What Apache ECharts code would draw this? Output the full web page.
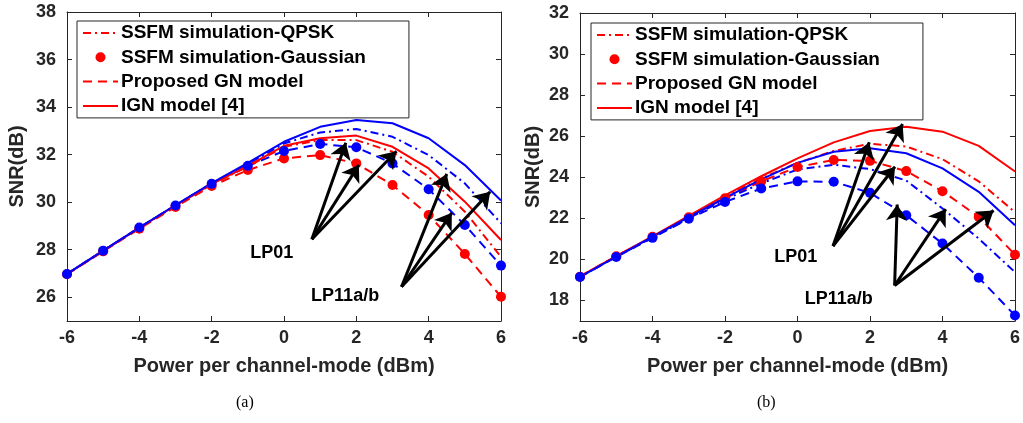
<!DOCTYPE html>
<html>
<head>
<meta charset="utf-8">
<script src="https://cdn.jsdelivr.net/npm/echarts@6/dist/echarts.min.js"></script>
<style>
html,body{margin:0;padding:0;background:#fff;}
#chart{width:1023px;height:423px;}
</style>
</head>
<body>
<div id="chart"></div>
<script>
// ---------- data ----------
const powerX = [-6, -5, -4, -3, -2, -1, 0, 1, 2, 3, 4, 5, 6];
const xTicks = [-6, -4, -2, 0, 2, 4, 6];
const yTicksA = [26, 28, 30, 32, 34, 36, 38];
const yTicksB = [18, 20, 22, 24, 26, 28, 30, 32];

// (a)
const a_qpskRed  = [26.97, 27.95, 28.92, 29.85, 30.75, 31.49, 32.33, 32.61, 32.61, 32.12, 31.07, 29.60, 27.70];
const a_gaussRed = [26.97, 27.93, 28.88, 29.80, 30.68, 31.35, 31.84, 31.98, 31.63, 30.72, 29.46, 27.82, 26.02];
const a_gnRed    = [26.97, 27.93, 28.88, 29.80, 30.68, 31.35, 31.84, 31.98, 31.63, 30.72, 29.46, 27.82, 26.02];
const a_ignRed   = [26.97, 27.95, 28.92, 29.86, 30.76, 31.53, 32.37, 32.69, 32.80, 32.33, 31.42, 30.02, 28.41];
const a_qpskBlue = [26.98, 27.96, 28.93, 29.87, 30.79, 31.60, 32.47, 32.93, 33.08, 32.75, 31.98, 30.79, 29.11];
const a_gaussBlue= [26.98, 27.96, 28.93, 29.86, 30.77, 31.53, 32.15, 32.45, 32.31, 31.63, 30.54, 29.04, 27.33];
const a_gnBlue   = [26.98, 27.96, 28.93, 29.86, 30.77, 31.53, 32.15, 32.45, 32.31, 31.63, 30.54, 29.04, 27.33];
const a_ignBlue  = [26.98, 27.96, 28.93, 29.88, 30.80, 31.65, 32.54, 33.17, 33.46, 33.32, 32.69, 31.56, 30.07];

// (b)
const b_qpskRed  = [19.17, 20.16, 21.10, 22.08, 23.05, 23.95, 24.70, 25.28, 25.63, 25.50, 24.88, 23.80, 22.30];
const b_gaussRed = [19.16, 20.15, 21.10, 22.05, 22.98, 23.80, 24.50, 24.84, 24.80, 24.30, 23.32, 22.07, 20.23];
const b_gnRed    = [19.16, 20.15, 21.10, 22.05, 22.98, 23.80, 24.50, 24.84, 24.80, 24.30, 23.32, 22.07, 20.23];
const b_ignRed   = [19.17, 20.16, 21.12, 22.12, 23.12, 24.05, 24.92, 25.70, 26.25, 26.46, 26.22, 25.53, 24.28];
const b_qpskBlue = [19.15, 20.13, 21.07, 22.00, 22.92, 23.70, 24.38, 24.61, 24.40, 23.84, 22.48, 21.01, 19.38];
const b_gaussBlue= [19.14, 20.12, 21.05, 21.98, 22.80, 23.45, 23.80, 23.78, 23.24, 22.15, 20.77, 19.11, 17.27];
const b_gnBlue   = [19.14, 20.12, 21.05, 21.98, 22.80, 23.45, 23.80, 23.78, 23.24, 22.15, 20.77, 19.11, 17.27];
const b_ignBlue  = [19.15, 20.14, 21.10, 22.06, 23.00, 23.90, 24.70, 25.24, 25.41, 25.17, 24.43, 23.29, 21.66];

// annotation arrows [x0, y0, x1, y1] (data units)
const a_arrows = [
  [0.77, 28.44, 1.71, 32.50], [0.77, 28.44, 2.07, 31.57], [0.77, 28.44, 3.11, 32.14],
  [3.25, 26.44, 4.50, 31.19], [3.25, 26.44, 4.64, 29.55], [3.25, 26.44, 5.70, 30.44]
];
const b_arrows = [
  [0.98, 20.65, 1.98, 25.70], [0.98, 20.65, 2.90, 26.59], [0.98, 20.65, 2.69, 24.51],
  [2.68, 18.73, 2.75, 22.67], [2.68, 18.73, 4.09, 22.45], [2.68, 18.73, 5.41, 22.38]
];
const a_labels = [['LP01', -0.34, 27.85], ['LP11a/b', 1.69, 26.07]];
const b_labels = [['LP01', -0.05, 20.11], ['LP11a/b', 1.14, 18.08]];

const names = ['SSFM simulation-QPSK', 'SSFM simulation-Gaussian', 'Proposed GN model', 'IGN model [4]'];

// ---------- build ----------
const RED = '#ff0000', BLUE = '#0000ff', AX = '#262626';
const FONT = 'Liberation Sans, Arial, sans-serif';
const pts = arr => powerX.map((x, i) => [x, arr[i]]);

function lineSeries(name, arr, color, type, idx) {
  return {
    type: 'line', name: name, data: pts(arr), xAxisIndex: idx, yAxisIndex: idx,
    symbol: 'none', showSymbol: false, z: 3,
    lineStyle: { color: color, width: 2, type: type }, itemStyle: { color: color },
    emphasis: { disabled: true }, silent: true
  };
}
function dotSeries(name, arr, color, idx) {
  return {
    type: 'scatter', name: name, data: pts(arr), xAxisIndex: idx, yAxisIndex: idx,
    symbol: 'circle', symbolSize: 10, z: 4,
    itemStyle: { color: color, opacity: 1 }, emphasis: { disabled: true }, silent: true
  };
}
const DASHDOT = [8, 4, 2, 4], DASH = [9, 6];

function panelSeries(idx, d, arrows, labels) {
  const s = [
    lineSeries(names[2], d.gnRed, RED, DASH, idx),
    lineSeries('gnB' + idx, d.gnBlue, BLUE, DASH, idx),
    lineSeries(names[0], d.qpskRed, RED, DASHDOT, idx),
    lineSeries('qpskB' + idx, d.qpskBlue, BLUE, DASHDOT, idx),
    lineSeries(names[3], d.ignRed, RED, 'solid', idx),
    lineSeries('ignB' + idx, d.ignBlue, BLUE, 'solid', idx),
    dotSeries(names[1], d.gaussRed, RED, idx),
    dotSeries('gaussB' + idx, d.gaussBlue, BLUE, idx)
  ];
  s.push({
    type: 'line', name: 'annot' + idx, data: [], xAxisIndex: idx, yAxisIndex: idx, z: 10,
    markLine: {
      silent: true, symbol: ['none', 'arrow'], symbolSize: 16, precision: 4,
      label: { show: false }, emphasis: { disabled: true },
      lineStyle: { color: '#000', width: 3, type: 'solid' },
      data: arrows.map(a => [{ coord: [a[0], a[1]] }, { coord: [a[2], a[3]] }])
    },
    markPoint: {
      silent: true, symbol: 'circle', symbolSize: 0,
      label: { show: true, position: 'inside', color: '#000', fontFamily: FONT, fontWeight: 'bold', fontSize: 18,
               formatter: p => p.name },
      data: labels.map(l => ({ name: l[0], coord: [l[1], l[2]], value: 0 }))
    }
  });
  return s;
}

const baseAxisLine = { show: true, onZero: false, lineStyle: { color: AX, width: 1 } };
function xAxes(gi) {
  return [
    { type: 'value', gridIndex: gi, min: -6, max: 6, interval: 2, position: 'bottom',
      axisLine: baseAxisLine, axisTick: { inside: true, length: 5, lineStyle: { color: AX } },
      axisLabel: { color: AX, fontFamily: FONT, fontWeight: 'bold', fontSize: 18, margin: 8 },
      splitLine: { show: false },
      name: 'Power per channel-mode (dBm)', nameLocation: 'middle', nameGap: 35,
      nameTextStyle: { color: AX, fontFamily: FONT, fontWeight: 'bold', fontSize: 20 } },
    { type: 'value', gridIndex: gi, min: -6, max: 6, interval: 2, position: 'top',
      axisLine: baseAxisLine, axisTick: { inside: true, length: 5, lineStyle: { color: AX } },
      axisLabel: { show: false }, splitLine: { show: false } }
  ];
}
function yAxes(gi, min, max, ticks, gap) {
  return [
    { type: 'value', gridIndex: gi, min: min, max: max, position: 'left',
      axisLine: baseAxisLine,
      axisTick: { inside: true, length: 5, lineStyle: { color: AX }, customValues: ticks },
      axisLabel: { color: AX, fontFamily: FONT, fontWeight: 'bold', fontSize: 18, margin: 11, customValues: ticks },
      splitLine: { show: false },
      name: 'SNR(dB)', nameLocation: 'middle', nameGap: gap,
      nameTextStyle: { color: AX, fontFamily: FONT, fontWeight: 'bold', fontSize: 20 } },
    { type: 'value', gridIndex: gi, min: min, max: max, position: 'right',
      axisLine: baseAxisLine,
      axisTick: { inside: true, length: 5, lineStyle: { color: AX }, customValues: ticks },
      axisLabel: { show: false, customValues: ticks }, splitLine: { show: false } }
  ];
}

const xa = xAxes(0).concat(xAxes(1));
const ya = yAxes(0, 25, 38, yTicksA, 40).concat(yAxes(1, 17, 32, yTicksB, 37));
const sA = panelSeries(0, { qpskRed: a_qpskRed, gaussRed: a_gaussRed, gnRed: a_gnRed, ignRed: a_ignRed,
  qpskBlue: a_qpskBlue, gaussBlue: a_gaussBlue, gnBlue: a_gnBlue, ignBlue: a_ignBlue }, a_arrows, a_labels);
const sB = panelSeries(2, { qpskRed: b_qpskRed, gaussRed: b_gaussRed, gnRed: b_gnRed, ignRed: b_ignRed,
  qpskBlue: b_qpskBlue, gaussBlue: b_gaussBlue, gnBlue: b_gnBlue, ignBlue: b_ignBlue }, b_arrows, b_labels);

// legend entries: hide the auto symbol on line entries
const legendData = names.map(n => n === names[1] ? { name: n } : { name: n, itemStyle: { opacity: 0 } });

function legend(left, top) {
  return {
    left: left, top: top, orient: 'vertical', data: legendData, selectedMode: false,
    itemWidth: 35, itemHeight: 10, itemGap: 4.3,
    padding: [2, 43, 2, 5], borderColor: AX, borderWidth: 1, backgroundColor: '#fff',
    textStyle: { color: '#000', fontFamily: FONT, fontWeight: 'bold', fontSize: 19, lineHeight: 20, padding: [0, 0, 0, -2] }
  };
}

const option = {
  animation: false,
  backgroundColor: '#fff',
  grid: [
    { left: 67, top: 12, width: 434, height: 309 },
    { left: 580, top: 13, width: 437, height: 308 }
  ],
  xAxis: xa,
  yAxis: ya,
  legend: [legend(77, 21), legend(591, 23)],
  series: sA.concat(sB),
  graphic: [
    { type: 'text', left: 236, top: 395, style: { text: '(a)', font: '16px "Liberation Serif", serif', fill: '#000' } },
    { type: 'text', left: 757, top: 395, style: { text: '(b)', font: '16px "Liberation Serif", serif', fill: '#000' } }
  ]
};
const chart = echarts.init(document.getElementById('chart'), null, { renderer: 'canvas' });
chart.setOption(option);
</script>
</body>
</html>
